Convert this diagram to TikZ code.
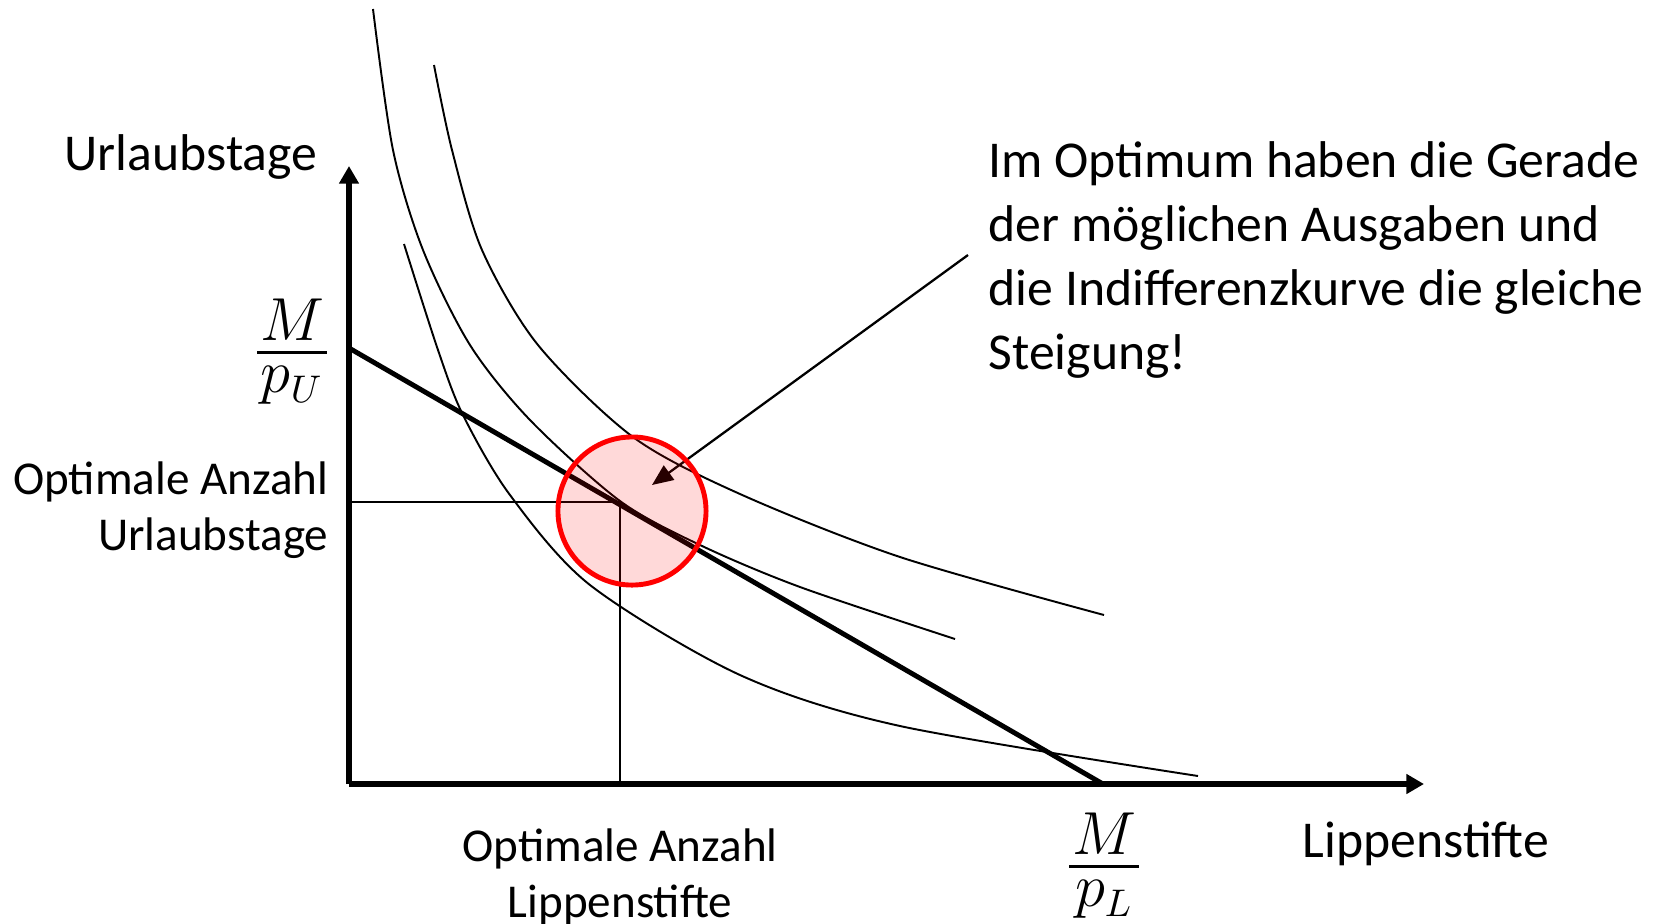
\documentclass[tikz,border=0pt]{standalone}
\usepackage{fontspec}
\setmainfont{Carlito}
\usetikzlibrary{arrows.meta,positioning}
% Bruch mit engem Abstand zum Bruchstrich
\newcommand{\mbruch}[2]{\vbox{\offinterlineskip\halign{\hfil\kern0.8pt##\kern0.8pt\hfil\cr
  $#1$\cr\noalign{\kern3pt\hrule height0.9pt\kern3.5pt}$#2$\cr}}}

\begin{document}
\begin{tikzpicture}[
  x=0.01cm, y=-0.01cm,
  achse/.style={line width=1.5pt,-{Triangle[length=5pt,width=5.4pt]}},
  kurve/.style={line width=0.55pt},
  gerade/.style={line width=1.4pt},
  hilfs/.style={line width=0.45pt},
  pfeil/.style={line width=0.65pt,-{Triangle[length=6pt,width=5pt]}},
  gross/.style={font=\fontsize{14.7}{18.2}\selectfont,inner sep=0pt},
  klein/.style={font=\fontsize{13.4}{15.9}\selectfont,inner sep=0pt},
  bruch/.style={font=\fontsize{16}{19}\selectfont,inner sep=0pt}
]
\useasboundingbox (0,0) rectangle (1662,923);
% Achsen
\coordinate (O) at (349,784);
\coordinate (ytop) at (349,166);
\coordinate (xend) at (1424,784);
\draw[achse] (O) -- (ytop);
\draw[achse] (O) -- (xend);
% Indifferenzkurven
\draw[kurve] plot[smooth] coordinates {(373,9) (393,150) (423,250) (470,345) (530,420)
  (620,501) (700,545) (800,587) (955,639)};
\draw[kurve] plot[smooth] coordinates {(434,65) (452,150) (482,250) (538,345) (633,437)
  (740,494) (900,557) (1104,615)};
\draw[kurve] plot[smooth] coordinates {(404,244) (438,350) (463,415) (510,495) (590,585)
  (740,675) (900,726) (1198,776)};
% Budgetgerade
\coordinate (budgetU) at (349,348);
\coordinate (budgetL) at (1103,784);
\draw[gerade] (budgetU) -- (budgetL);
% Optimum
\coordinate (T) at (620,502);
\draw[hilfs] (O |- T) -- (T) -- (T |- O);
\coordinate (pfeilstart) at (968,255);
\coordinate (pfeilziel) at (652,485);
\draw[pfeil] (pfeilstart) -- (pfeilziel);
\node[circle,draw=red,fill=red,fill opacity=0.15,draw opacity=1,line width=1.4pt,
  minimum size=1.48cm,inner sep=0pt] (optimum) at (632,511) {};
% Beschriftungen
\node[gross,anchor=base west] (ylabel) at (64,170) {Urlaubstage};
\node[gross,anchor=base west] (xlabel) at (1302,857) {Lippenstifte};
\node[bruch] (mpu) at (292,352) {\mbruch{M}{p_U}};
\node[bruch] (mpl) at (1104,866) {\mbruch{M}{p_L}};
\node[klein,anchor=base east,align=right] (yopt) at (329,550) {Optimale Anzahl\\Urlaubstage};
\node[klein,anchor=base,align=center] (xopt) at (620,917) {Optimale Anzahl\\Lippenstifte};
\node[gross,anchor=base west,align=left] (hinweis) at (988,369)
  {Im Optimum haben die Gerade\\der möglichen Ausgaben und\\die Indifferenzkurve die gleiche\\Steigung!};
\end{tikzpicture}
\end{document}
